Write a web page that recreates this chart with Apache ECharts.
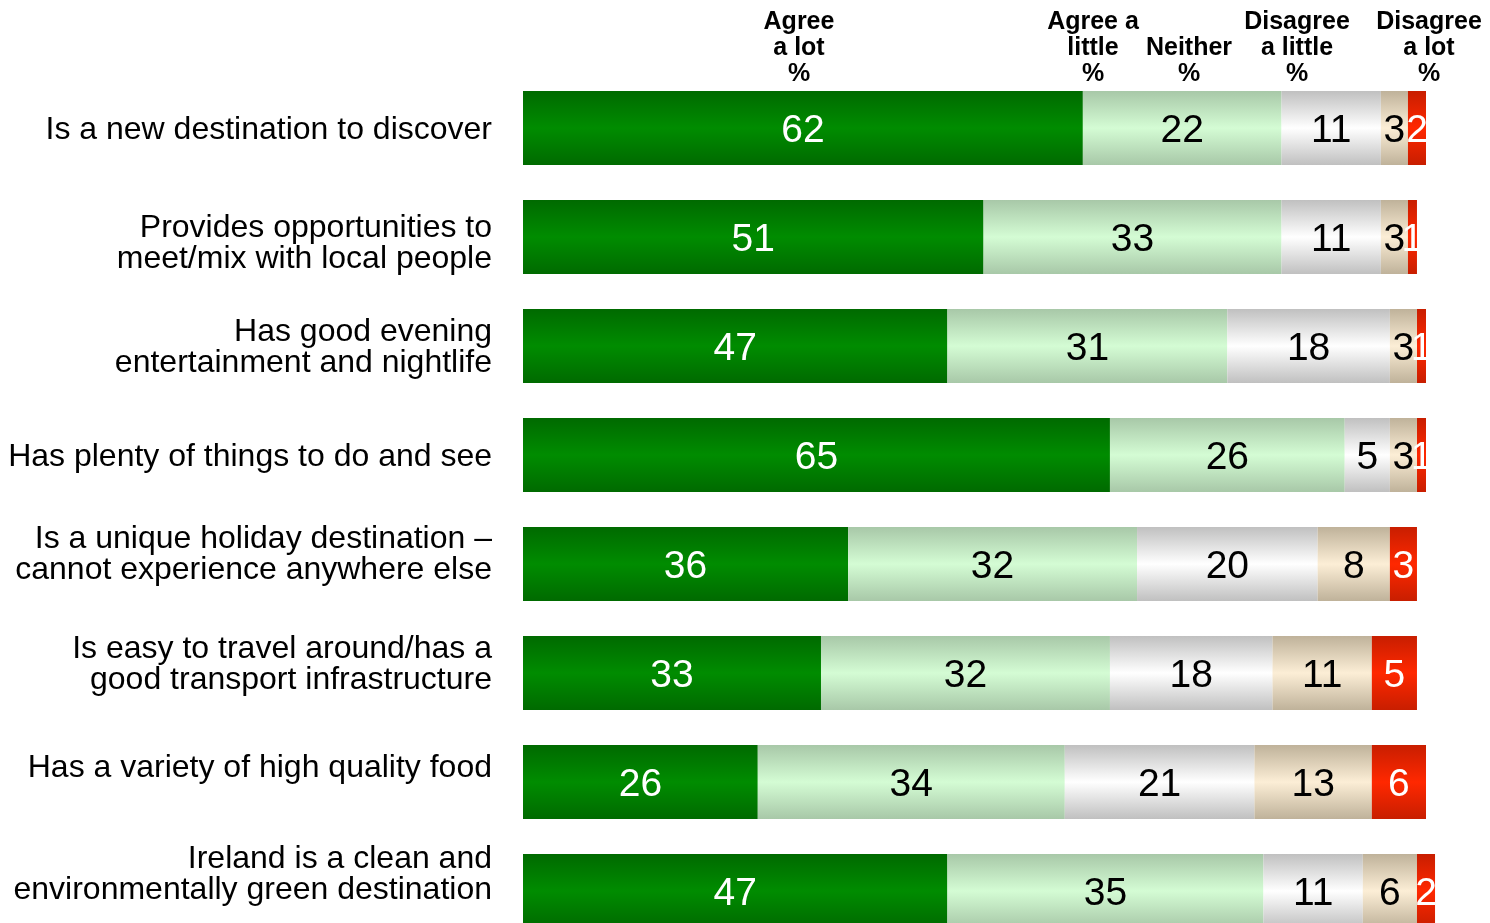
<!DOCTYPE html>
<html>
<head>
<meta charset="utf-8">
<script src="https://cdn.jsdelivr.net/npm/echarts@6/dist/echarts.min.js"></script>
<style>
html,body{margin:0;padding:0;background:#fff;}
#chart{width:1490px;height:923px;}
</style>
</head>
<body>
<div id="chart"></div>
<script>
const categories = [
  'Is a new destination to discover',
  'Provides opportunities to\nmeet/mix with local people',
  'Has good evening\nentertainment and nightlife',
  'Has plenty of things to do and see',
  'Is a unique holiday destination –\ncannot experience anywhere else',
  'Is easy to travel around/has a\ngood transport infrastructure',
  'Has a variety of high quality food',
  'Ireland is a clean and\nenvironmentally green destination'
];
const agreeALot = [62, 51, 47, 65, 36, 33, 26, 47];
const agreeALittle = [22, 33, 31, 26, 32, 32, 34, 35];
const neither = [11, 11, 18, 5, 20, 18, 21, 11];
const disagreeALittle = [3, 3, 3, 3, 8, 11, 13, 6];
const disagreeALot = [2, 1, 1, 1, 3, 5, 6, 2];
const seriesNames = ['Agree\na lot\n%', 'Agree a\nlittle\n%', 'Neither\n%', 'Disagree\na little\n%', 'Disagree\na lot\n%'];

// styling (not data)
const labelShift = [2, 7, 2, 2, -9, -8, -14, -16];
const headerX = [799, 1093, 1189, 1297, 1429];
const styles = [
  {edge: '#006A00', mid: '#008C00', text: '#ffffff'},
  {edge: '#A8C8A8', mid: '#D4FCD4', text: '#000000'},
  {edge: '#C0C0C0', mid: '#FFFFFF', text: '#000000'},
  {edge: '#BFB29A', mid: '#FCEED6', text: '#000000'},
  {edge: '#C81E00', mid: '#FF2800', text: '#ffffff'}
];
const values = [agreeALot, agreeALittle, neither, disagreeALittle, disagreeALot];

const chart = echarts.init(document.getElementById('chart'));
const font = 'Liberation Sans, Arial, sans-serif';

const rich = {};
labelShift.forEach((s, i) => {
  rich['sp' + i] = {fontSize: 2, lineHeight: Math.max(1, 2 * Math.abs(s))};
});

const series = values.map((arr, k) => ({
  name: seriesNames[k],
  type: 'bar',
  stack: 'total',
  barWidth: 74,
  clip: false,
  data: arr,
  itemStyle: {
    color: new echarts.graphic.LinearGradient(0, 0, 0, 1, [
      {offset: 0, color: styles[k].edge},
      {offset: 0.5, color: styles[k].mid},
      {offset: 1, color: styles[k].edge}
    ])
  },
  label: {
    show: true,
    position: 'inside',
    offset: [0, 3],
    color: styles[k].text,
    fontFamily: font,
    fontSize: 39,
    formatter: p => p.value
  },
  emphasis: {disabled: true}
}));

const graphics = seriesNames.map((n, k) => ({
  type: 'text',
  x: headerX[k],
  y: 87,
  style: {
    text: n,
    fontFamily: font,
    fontWeight: 'bold',
    fontSize: 25,
    lineHeight: 26,
    fill: '#000',
    align: 'center',
    verticalAlign: 'bottom'
  }
}));

chart.setOption({
  animation: false,
  backgroundColor: '#ffffff',
  grid: {left: 523, right: 64, top: 73.5, bottom: -22.5, containLabel: false, outerBoundsMode: 'none'},
  xAxis: {type: 'value', min: 0, max: 100, show: false},
  yAxis: {
    type: 'category',
    inverse: true,
    data: categories,
    axisLine: {show: false},
    axisTick: {show: false},
    splitLine: {show: false},
    axisLabel: {
      margin: 31,
      color: '#000',
      fontFamily: font,
      fontSize: 32,
      lineHeight: 31,
      align: 'right',
      rich: rich,
      formatter: (v, idx) => {
        const s = labelShift[idx];
        if (!s) return v;
        const sp = '{sp' + idx + '| }';
        return s < 0 ? v + '\n' + sp : sp + '\n' + v;
      }
    }
  },
  graphic: graphics,
  series: series
});
</script>
</body>
</html>
